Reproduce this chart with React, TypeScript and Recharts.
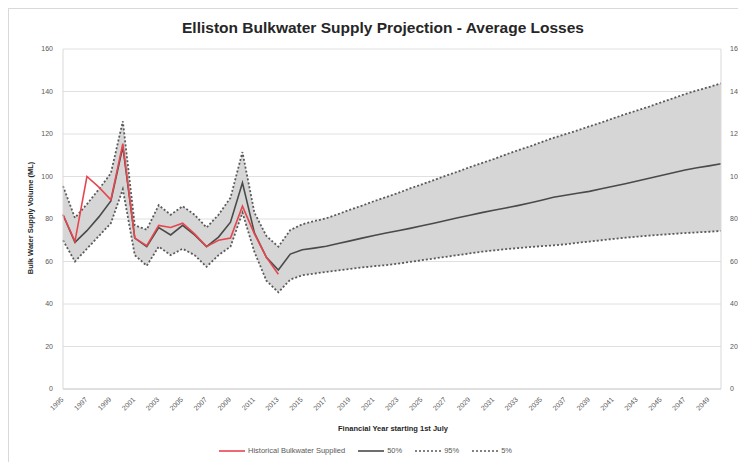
import React from 'react';
import { ComposedChart, Area, Line, XAxis, YAxis, CartesianGrid } from 'recharts';

const years: number[] = [];
for (let y = 1995; y <= 2050; y++) years.push(y);

const historical: (number | null)[] = [
  82, 69.5, 100, 95, 89, 115.5, 71, 67.5, 77, 76, 78, 73, 67, 70, 71, 86, 73, 62, 54,
];

const median: number[] = [
  82, 69, 74.5, 81, 88.5, 114, 71, 67, 76, 72.5, 77, 72.5, 67, 71.5, 78.5, 97, 73.5, 62, 56,
  63.5, 65.5, 66.3, 67.2, 68.5, 69.7, 71, 72.2, 73.4, 74.5, 75.6, 76.8, 78, 79.3, 80.6, 81.8,
  83, 84.1, 85.2, 86.3, 87.5, 88.8, 90.2, 91.2, 92.1, 93, 94.2, 95.4, 96.6, 97.9, 99.2, 100.5,
  101.8, 103.1, 104.1, 105, 106,
];

const p95: number[] = [
  95.5, 80.5, 87, 94, 101.5, 126, 77, 75, 86.5, 82, 86, 82, 76, 82, 90, 111.5, 83, 72, 67,
  74.8, 77.5, 79, 80.3, 82.3, 84.4, 86.3, 88.4, 90.3, 92.2, 94.4, 96.3, 98.3, 100.4, 102.3, 104.4,
  106.3, 108.2, 110.3, 112.3, 114.1, 116.2, 118.2, 119.9, 121.7, 123.6, 125.4, 127.4, 129.3, 131.1,
  132.9, 134.9, 136.8, 138.8, 140.5, 142.1, 143.8,
];

const p5: number[] = [
  70, 60, 66, 72, 78, 94, 63, 58, 67, 63, 66, 63, 57.5, 63, 67, 83, 64.5, 51, 45.5,
  51.5, 53.5, 54.3, 55.1, 55.8, 56.5, 57.2, 57.8, 58.3, 59, 59.8, 60.6, 61.4, 62.2, 63, 63.8,
  64.6, 65.2, 65.8, 66.3, 66.8, 67.2, 67.6, 68.1, 68.8, 69.4, 70, 70.6, 71.2, 71.7, 72.2, 72.6,
  73, 73.4, 73.7, 74, 74.4,
];

const yTicks = [0, 20, 40, 60, 80, 100, 120, 140, 160];

const data = years.map((yr, i) => ({
  year: String(yr),
  hist: i < historical.length ? historical[i] : null,
  p50: median[i],
  p95: p95[i],
  p5: p5[i],
  band: [p5[i], p95[i]],
}));

const FONT = '"Liberation Sans", Arial, sans-serif';

const XTick = (props: any) => {
  const { x, y, payload } = props;
  return (
    <text
      x={x + 1}
      y={y + 3}
      transform={`rotate(-45 ${x + 1} ${y + 3})`}
      textAnchor="end"
      fontSize={7}
      fill="#595959"
      fontFamily={FONT}
    >
      {payload.value}
    </text>
  );
};

const LegendItem = ({ color, dashed, label }: { color: string; dashed?: boolean; label: string }) => (
  <div style={{ display: 'flex', alignItems: 'center', marginRight: 13 }}>
    <svg width={26} height={6} style={{ marginRight: 3 }}>
      <line x1={0} y1={3} x2={26} y2={3} stroke={color} strokeWidth={1.6} strokeDasharray={dashed ? '2 2' : undefined} />
    </svg>
    <span>{label}</span>
  </div>
);

export default function App() {
  return (
    <div
      style={{
        position: 'relative',
        width: 740,
        height: 460,
        border: '1px solid #d9d9d9',
        boxSizing: 'border-box',
        fontFamily: FONT,
        background: '#fff',
      }}
    >
      <div
        style={{
          position: 'absolute',
          left: 0,
          width: 748,
          top: 10,
          textAlign: 'center',
          fontWeight: 'bold',
          fontSize: 15.5,
          color: '#262626',
        }}
      >
        Elliston Bulkwater Supply Projection - Average Losses
      </div>
      <div
        style={{
          position: 'absolute',
          left: 21,
          top: 209,
          width: 0,
          height: 0,
        }}
      >
        <div
          style={{
            position: 'absolute',
            transform: 'translate(-50%, -50%) rotate(-90deg)',
            whiteSpace: 'nowrap',
            fontSize: 7.5,
            fontWeight: 'bold',
            color: '#262626',
          }}
        >
          Bulk Water Supply Volume (ML)
        </div>
      </div>
      <ComposedChart
        width={736}
        height={440}
        data={data}
        margin={{ top: 40, right: 4, left: 14, bottom: 20 }}
        style={{ position: 'absolute', left: 0, top: 0 }}
      >
        <CartesianGrid vertical={false} stroke="#e0e0e0" yAxisId="left" />
        <XAxis
          dataKey="year"
          scale="point"
          padding={{ left: 0, right: 0 }}
          interval={1}
          tick={<XTick />}
          tickLine={false}
          axisLine={{ stroke: '#d0d0d0' }}
          height={40}
        />
        <YAxis
          yAxisId="left"
          domain={[0, 160]}
          ticks={yTicks}
          width={40}
          tickLine={false}
          tickMargin={4}
          axisLine={{ stroke: '#d9d9d9' }}
          tick={{ fontSize: 7, fill: '#595959', fontFamily: FONT }}
          interval={0}
        />
        <YAxis
          yAxisId="right"
          orientation="right"
          domain={[0, 160]}
          ticks={yTicks}
          width={20}
          tickLine={false}
          tickMargin={3}
          axisLine={{ stroke: '#d9d9d9' }}
          tick={{ fontSize: 7, fill: '#595959', fontFamily: FONT, textAnchor: 'start' }}
          interval={0}
        />
        <Area
          yAxisId="left"
          type="linear"
          dataKey="band"
          stroke="none"
          fill="#d6d6d6"
          fillOpacity={1}
          isAnimationActive={false}
          activeDot={false}
          dot={false}
        />
        <Line
          yAxisId="left"
          type="linear"
          dataKey="p95"
          stroke="#5a5a5a"
          strokeWidth={1.8}
          strokeDasharray="2 2"
          dot={false}
          isAnimationActive={false}
        />
        <Line
          yAxisId="right"
          type="linear"
          dataKey="p5"
          stroke="#5a5a5a"
          strokeWidth={1.8}
          strokeDasharray="2 2"
          dot={false}
          isAnimationActive={false}
        />
        <Line
          yAxisId="left"
          type="linear"
          dataKey="p50"
          stroke="#4a4a4a"
          strokeWidth={1.6}
          dot={false}
          isAnimationActive={false}
        />
        <Line
          yAxisId="left"
          type="linear"
          dataKey="hist"
          stroke="#e5474f"
          strokeWidth={1.6}
          dot={false}
          isAnimationActive={false}
        />
      </ComposedChart>
      <div
        style={{
          position: 'absolute',
          left: 0,
          width: 768,
          top: 415,
          textAlign: 'center',
          fontWeight: 'bold',
          fontSize: 7.5,
          color: '#262626',
        }}
      >
        Financial Year starting 1st July
      </div>
      <div
        style={{
          position: 'absolute',
          left: 210,
          top: 437,
          display: 'flex',
          fontSize: 7.5,
          color: '#595959',
        }}
      >
        <LegendItem color="#e5474f" label="Historical Bulkwater Supplied" />
        <LegendItem color="#4a4a4a" label="50%" />
        <LegendItem color="#5a5a5a" dashed label="95%" />
        <LegendItem color="#5a5a5a" dashed label="5%" />
      </div>
    </div>
  );
}
